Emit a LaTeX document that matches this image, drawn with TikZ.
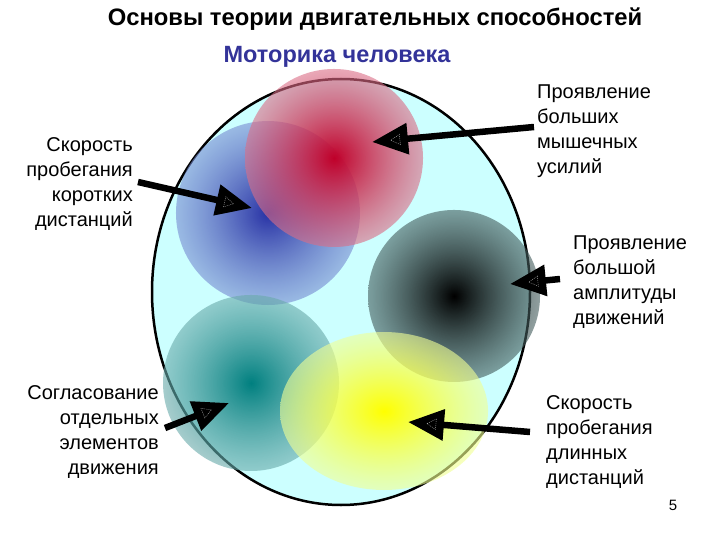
\documentclass[tikz,border=0pt]{standalone}
\usepackage{fontspec}
\setmainfont{Liberation Sans}
\usetikzlibrary{arrows.meta,fadings,shapes.geometric,calc}
\tikzfading[name=discfade, inner color=transparent!0, outer color=transparent!40]
\definecolor{bgcyan}{RGB}{204,255,255}
\definecolor{redin}{RGB}{192,0,42}
\definecolor{redout}{RGB}{218,110,135}
\definecolor{bluein}{RGB}{40,50,165}
\definecolor{blueout}{RGB}{120,140,210}
\definecolor{darkin}{RGB}{0,0,0}
\definecolor{darkout}{RGB}{70,95,95}
\definecolor{tealin}{RGB}{0,128,128}
\definecolor{tealout}{RGB}{105,170,170}
\definecolor{yelin}{RGB}{255,255,0}
\definecolor{yelout}{RGB}{240,255,150}
\definecolor{subtitle}{RGB}{51,51,153}
\tikzset{
  disc/.style={path fading=discfade},
  lbl/.style={inner sep=0pt, font=\fontsize{20}{25}\selectfont},
  pointer/.style={line width=6.5pt, -{Triangle[length=36pt,width=30pt]}},
  glint/.style={isosceles triangle, isosceles triangle apex angle=60, inner sep=0pt,
    minimum width=8pt, minimum height=9pt, draw=white!70!black, line width=0.4pt,
    dash pattern=on 1pt off 1pt}
}
\begin{document}
\begin{tikzpicture}[x=1pt,y=-1pt]
\useasboundingbox (0,0) rectangle (720,540);
% big ellipse
\draw[line width=2.5pt, fill=bgcyan] (341,292) ellipse [x radius=189, y radius=213];
% discs
\shade[disc, inner color=bluein, outer color=blueout] (268,213) circle (92);
\shade[disc, inner color=redin, outer color=redout] (334,158) circle (89);
\shade[disc, inner color=darkin, outer color=darkout] (454,296) circle (86);
\shade[disc, inner color=tealin, outer color=tealout] (251,383) circle (88);
\shade[disc, inner color=yelin, outer color=yelout] (384,411) ellipse [x radius=104, y radius=79];
% titles
\node (title) [font=\fontsize{23.8}{28}\selectfont\bfseries] at (375,19.5) {Основы теории двигательных способностей};
\node (sub) [font=\fontsize{23.5}{28}\selectfont\bfseries, text=subtitle] at (337,57) {Моторика человека};
% labels
\node (l1) [lbl, anchor=east, align=right] at (133,184) {Скорость\\пробегания\\коротких\\дистанций};
\node (r1) [lbl, anchor=west, align=left] at (537,131) {Проявление\\больших\\мышечных\\усилий};
\node (r2) [lbl, anchor=west, align=left] at (573,282) {Проявление\\большой\\амплитуды\\движений};
\node (l2) [lbl, anchor=east, align=right] at (159,432) {Согласование\\отдельных\\элементов\\движения};
\node (r3) [lbl, anchor=west, align=left] at (546,442) {Скорость\\пробегания\\длинных\\дистанций};
\node (pg) [font=\fontsize{15}{17}\selectfont] at (673,505) {5};
% arrow ends
\coordinate (t1) at (138,182); \coordinate (h1) at (252,208);
\coordinate (t2) at (534,127); \coordinate (h2) at (372,142);
\coordinate (t3) at (560,279); \coordinate (h3) at (510,284);
\coordinate (t4) at (165,428); \coordinate (h4) at (229,403);
\coordinate (t5) at (530,432); \coordinate (h5) at (408,422);
\draw[pointer] (t1) -- (h1);
\draw[pointer] (t2) -- (h2);
\draw[pointer] (t3) -- (h3);
\draw[pointer] (t4) -- (h4);
\draw[pointer] (t5) -- (h5);
\node (g1) [glint, rotate=-12.8] at ($(h1)!25pt!(t1)$) {};
\node (g2) [glint, rotate=185.3] at ($(h2)!25pt!(t2)$) {};
\node (g3) [glint, rotate=185.7] at ($(h3)!25pt!(t3)$) {};
\node (g4) [glint, rotate=21.3] at ($(h4)!25pt!(t4)$) {};
\node (g5) [glint, rotate=175.3] at ($(h5)!25pt!(t5)$) {};
\end{tikzpicture}
\end{document}
